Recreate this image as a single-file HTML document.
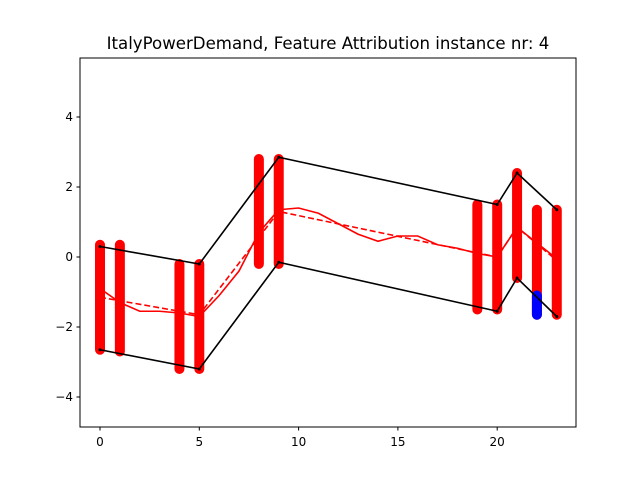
<!DOCTYPE html>
<html><head><meta charset="utf-8"><style>
body{margin:0;background:#fff;}
svg text{font-family:"DejaVu Sans","Liberation Sans",sans-serif;}
</style></head><body>
<svg id="chart" width="640" height="480" xmlns="http://www.w3.org/2000/svg">
<rect x="0" y="0" width="640" height="480" fill="#fff"/>
<text x="328" y="49" font-size="16.6" text-anchor="middle">ItalyPowerDemand, Feature Attribution instance nr: 4</text>
<g id="plot"></g>
<rect x="80" y="58" width="496" height="369" fill="none" stroke="#000" stroke-width="1"/>
</svg>
<script>
const barX=[0,1,4,5,8,9,19,20,21,22,23];
const barTop=[0.35,0.35,-0.2,-0.2,2.8,2.8,1.5,1.5,2.4,1.35,1.35];
const barBot=[-2.65,-2.7,-3.2,-3.2,-0.2,-0.2,-1.5,-1.5,-0.6,-1.65,-1.65];
const blueX=[22];
const blueTop=[-1.1];
const blueBot=[-1.65];
const envX=[0,5,9,20,21,23];
const envUpper=[0.3,-0.2,2.85,1.5,2.4,1.35];
const envLower=[-2.65,-3.2,-0.15,-1.55,-0.6,-1.7];
const series=[-0.9,-1.3,-1.55,-1.55,-1.6,-1.7,-1.1,-0.4,0.7,1.35,1.4,1.25,0.95,0.65,0.45,0.6,0.6,0.35,0.25,0.1,0.0,0.85,0.4,-0.05];
const dashX=[0,5,9,20,21,23];
const dashY=[-1.15,-1.65,1.3,0.0,0.85,-0.1];
const xTicks=[0,5,10,15,20];
const yTicks=[-4,-2,0,2,4];
const X=v=>100+v*19.86;
const Y=v=>257-v*35;
const NS="http://www.w3.org/2000/svg";
const g=document.getElementById('plot');
const svg=document.getElementById('chart');
function mk(t,a,p){const e=document.createElementNS(NS,t);for(const k in a)e.setAttribute(k,a[k]);(p||g).appendChild(e);return e;}
for(let i=0;i<barX.length;i++){
 const e=mk('line',{x1:X(barX[i]),x2:X(barX[i]),y1:Y(barTop[i]),y2:Y(barBot[i]),stroke:'#ff0000','stroke-width':10,'stroke-linecap':'round'});
 
 
}
for(let i=0;i<blueX.length;i++){
 const e=mk('line',{x1:X(blueX[i]),x2:X(blueX[i]),y1:Y(blueTop[i]),y2:Y(blueBot[i]),stroke:'#0000ff','stroke-width':10,'stroke-linecap':'round'});
 
 
}
function poly(xs,ys,attrs,name){
 const e=mk('polyline',Object.assign({points:xs.map((x,i)=>X(x)+','+Y(ys[i])).join(' '),fill:'none'},attrs));
 
 
}
poly(series.map((_,i)=>i),series,{stroke:'#ff0000','stroke-width':1.6},'series-line');
poly(dashX,dashY,{stroke:'#ff0000','stroke-width':1.6,'stroke-dasharray':'6,3'},'dashed-line');
poly(envX,envUpper,{stroke:'#000','stroke-width':1.6},'upper-envelope');
poly(envX,envLower,{stroke:'#000','stroke-width':1.6},'lower-envelope');
for(let i=0;i<envX.length;i++){
 for(const v of [envUpper[i],envLower[i]]){
  const c=mk('circle',{cx:X(envX[i]),cy:Y(v),r:1.5,fill:'#000'});
  
  
 }
}
for(const t of xTicks){
 const l=mk('line',{x1:X(t),x2:X(t),y1:427,y2:430.5,stroke:'#000'},svg);
 
 
 const tx=mk('text',{x:X(t),y:446,'font-size':12,'text-anchor':'middle'},svg);
 tx.textContent=t;
 
 
}
for(const t of yTicks){
 const l=mk('line',{x1:76.5,x2:80,y1:Y(t),y2:Y(t),stroke:'#000'},svg);
 
 
 const tx=mk('text',{x:73,y:Y(t)+4,'font-size':12,'text-anchor':'end'},svg);
 tx.textContent=t<0?'\u2212'+(-t):t;
 
 
}
</script>
</body></html>
